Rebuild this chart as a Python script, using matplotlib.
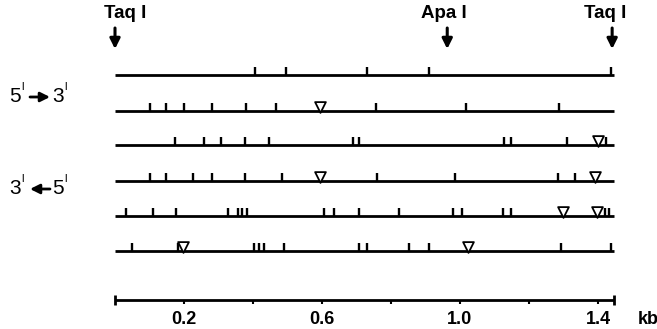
import matplotlib.pyplot as plt

plt.rcParams['font.family'] = ['Liberation Sans', 'DejaVu Sans']

# positions in kb along the 1.45 kb TaqI fragment
row_ticks = [
    [0.406, 0.496, 0.730, 0.910, 1.438],
    [0.101, 0.148, 0.200, 0.281, 0.380, 0.467, 0.757, 1.017, 1.287],
    [0.174, 0.258, 0.307, 0.377, 0.446, 0.690, 0.707, 1.128, 1.148, 1.310, 1.423],
    [0.101, 0.148, 0.225, 0.281, 0.377, 0.484, 0.759, 0.986, 1.284, 1.333],
    [0.032, 0.111, 0.177, 0.328, 0.356, 0.368, 0.384, 0.606, 0.635, 0.707,
     0.823, 0.980, 1.006, 1.125, 1.148, 1.420, 1.432],
    [0.048, 0.183, 0.403, 0.417, 0.432, 0.490, 0.707, 0.730, 0.852, 0.910, 1.293, 1.438],
]
row_triangles = [
    [],
    [0.594],
    [1.400],
    [0.594, 1.391],
    [1.299, 1.397],
    [0.197, 1.023],
]
sites = ['Taq I', 'Apa I', 'Taq I']
site_pos = [0.0, 0.963, 1.441]
scale_ticks = [0.2, 0.4, 0.6, 0.8, 1.0, 1.2, 1.4]
scale_labels = ['0.2', '', '0.6', '', '1.0', '', '1.4']
fragment_len = 1.445

row_y = [75, 111, 145, 181, 216, 251]
axis_y = 300
label_shift = [10, -3, -7]  # px offset of site names from their arrows


def px(x):
    # pixel column -> kb coordinate
    return (x - 115) / 345


fig = plt.figure(figsize=(6.57, 3.29), dpi=100)
ax = fig.add_axes([0, 0, 1, 1])
ax.set_xlim(px(0), px(657))
ax.set_ylim(329, 0)
ax.axis('off')

for y, ticks, tris in zip(row_y, row_ticks, row_triangles):
    ax.hlines(y, 0, fragment_len, color='black', lw=2)
    ax.vlines(ticks, y, y - 8, color='black', lw=1.7)
    if tris:
        ax.scatter(tris, [y - 4] * len(tris), marker='v', s=60,
                   facecolor='white', edgecolor='black', linewidth=1.3, zorder=3)

# restriction sites on top
for name, pos, dx in zip(sites, site_pos, label_shift):
    ax.text(pos + dx / 345, 13, name, ha='center', va='center',
            fontsize=13.5, fontweight='bold')
    ax.annotate('', xy=(pos, 49), xytext=(pos, 28),
                arrowprops=dict(arrowstyle='-|>', color='black', lw=2.2,
                                mutation_scale=15, shrinkA=0, shrinkB=0))

# strand labels
for y, left, right, tail, head in [(97, '5', '3', 30, 50), (189, '3', '5', 50, 30)]:
    ax.text(px(9), y, left, ha='left', va='center', fontsize=15)
    ax.text(px(21), y - 5, 'l', ha='left', va='bottom', fontsize=8)
    ax.annotate('', xy=(px(head), y), xytext=(px(tail), y),
                arrowprops=dict(arrowstyle='-|>', color='black', lw=2,
                                mutation_scale=14, shrinkA=0, shrinkB=0))
    ax.text(px(52), y, right, ha='left', va='center', fontsize=15)
    ax.text(px(64), y - 5, 'l', ha='left', va='bottom', fontsize=8)

# scale bar
ax.hlines(axis_y, 0, fragment_len, color='black', lw=2)
ax.vlines([0, fragment_len], axis_y - 5, axis_y + 5, color='black', lw=2)
ax.vlines(scale_ticks, axis_y, axis_y + 4, color='black', lw=1.5)
for t, lab in zip(scale_ticks, scale_labels):
    if lab:
        ax.text(t, 320, lab, ha='center', va='center', fontsize=13, fontweight='bold')
ax.text(px(648), 320, 'kb', ha='center', va='center', fontsize=13, fontweight='bold')

fig.savefig('out.png', dpi=100)
